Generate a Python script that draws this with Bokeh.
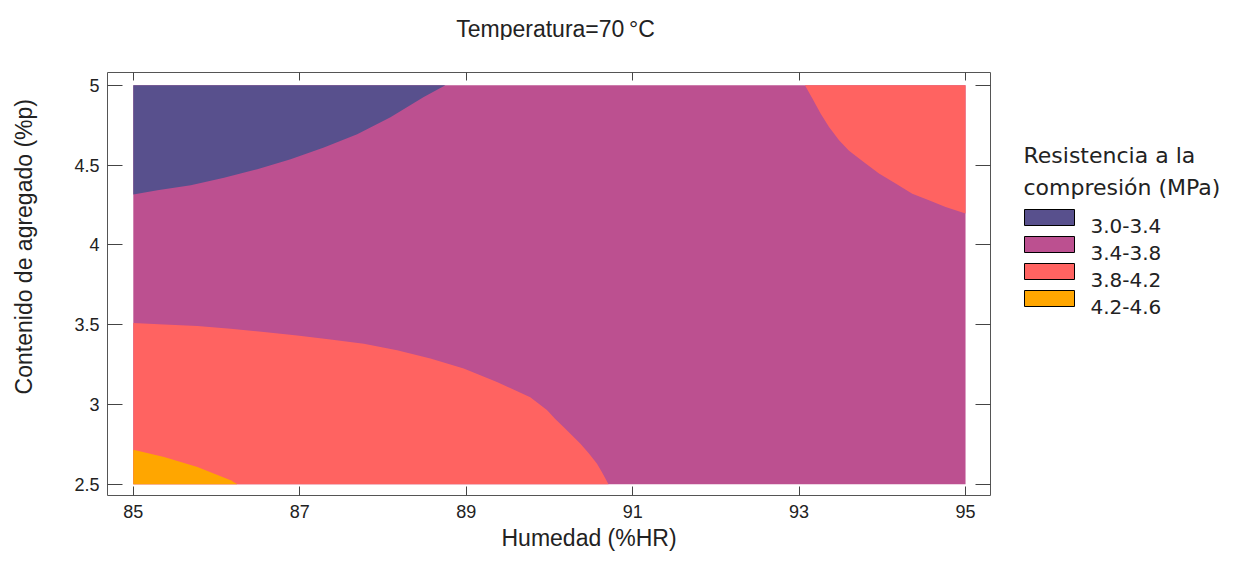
import math
from bokeh.plotting import figure
from bokeh.layouts import column, row
from bokeh.models import FixedTicker, LinearAxis, Range1d, Title
from bokeh.core.properties import value
from bokeh.embed import file_html
from bokeh.resources import INLINE

# ---------------- data ----------------
title_text = "Temperatura=70\u2009°C"
x_label = "Humedad  (%HR)"
y_label = "Contenido de agregado  (%p)"
legend_title = ["Resistencia a la", "compresión (MPa)"]
legend_labels = ["3.0-3.4", "3.4-3.8", "3.8-4.2", "4.2-4.6"]
colors = ["#58508d", "#bc5090", "#ff6361", "#ffa600"]

x_min, x_max = 85.0, 95.0
y_min, y_max = 2.5, 5.0
x_ticks = [85, 87, 89, 91, 93, 95]
y_ticks = [2.5, 3.0, 3.5, 4.0, 4.5, 5.0]
y_tick_labels = ["2.5", "3", "3.5", "4", "4.5", "5"]

# contour line 3.4 (upper-left)
c34_x = [85.0, 85.29, 85.69, 86.09, 86.49, 86.89, 87.29, 87.69, 88.09, 88.49, 88.75]
c34_y = [4.315, 4.342, 4.373, 4.42, 4.474, 4.536, 4.61, 4.693, 4.80, 4.927, 5.0]
# contour line 3.8 (upper-right)
c38a_x = [93.07, 93.16, 93.26, 93.36, 93.48, 93.6, 93.76, 93.96, 94.16, 94.36, 94.56, 94.76, 95.0]
c38a_y = [5.0, 4.917, 4.822, 4.739, 4.655, 4.59, 4.525, 4.447, 4.384, 4.321, 4.28, 4.237, 4.196]
# contour line 3.8 (lower-left)
c38b_x = [85.0, 85.37, 85.77, 86.17, 86.57, 86.97, 87.37, 87.77, 88.17, 88.57,
          88.97, 89.37, 89.77, 89.97, 90.07, 90.17, 90.27, 90.37, 90.47, 90.57,
          90.63, 90.71]
c38b_y = [3.511, 3.502, 3.492, 3.475, 3.454, 3.433, 3.408, 3.381, 3.340, 3.288,
          3.225, 3.141, 3.045, 2.965, 2.91, 2.859, 2.807, 2.755, 2.696, 2.63,
          2.577, 2.5]
# contour line 4.2 (lower-left corner)
c42_x = [85.0, 85.37, 85.77, 86.17, 86.25]
c42_y = [2.717, 2.671, 2.608, 2.525, 2.5]

# ---------------- styling constants ----------------
TF = "Liberation Sans"
LF = "DejaVu Sans"
TXT = "#222222"
TICK = "#444444"
W, H = 1239, 561
TOP_H = 40            # title strip
YL_W = 40             # y-label strip
LEG_W = 239           # legend strip
MAIN_W = W - YL_W - LEG_W
ROW_H = H - TOP_H
FRAME_TOP, FRAME_BOTTOM = 72, 495   # page pixels of the plot frame


def blank(width, height, xr, yr):
    f = figure(width=width, height=height, x_range=xr, y_range=yr,
               x_axis_type=None, y_axis_type=None, output_backend="svg",
               toolbar_location=None, min_border=0)
    f.outline_line_color = None
    f.grid.visible = False
    return f


# ---------------- title strip ----------------
t_fig = blank(W, TOP_H, Range1d(0, W), Range1d(TOP_H, 0))
t_fig.text(x=[555], y=[28], text=[title_text], text_align="center",
           text_baseline="alphabetic", text_font=value(TF),
           text_font_size="23px", text_color=TXT)

# side strips share the main frame's vertical extent (frames are aligned in a row)
# ---------------- y-label strip ----------------
y_fig = blank(YL_W, ROW_H, Range1d(0, YL_W), Range1d(FRAME_BOTTOM, FRAME_TOP))
y_fig.text(x=[23], y=[243], text=[y_label], angle=math.pi / 2,
           text_align="center", text_baseline="middle", text_font=value(TF),
           text_font_size="23px", text_color=TXT)

# ---------------- main plot ----------------
p = figure(width=MAIN_W, height=ROW_H,
           x_range=Range1d(84.69, 95.30), y_range=Range1d(2.43, 5.08),
           output_backend="svg", toolbar_location=None,
           min_border_left=107 - YL_W, min_border_right=10,
           min_border_top=FRAME_TOP - TOP_H, min_border_bottom=H - FRAME_BOTTOM)
p.grid.visible = False
p.outline_line_color = "#555555"
p.outline_line_width = 1

# base band (3.4-3.8) over the whole domain
p.quad(left=[x_min], right=[x_max], bottom=[y_min], top=[y_max],
       fill_color=colors[1], line_color=None)
# regions bounded by the contour lines and the domain edges
p.patch(c34_x + [x_min], c34_y + [y_max], fill_color=colors[0], line_color=None)
p.patch(c38a_x + [x_max], c38a_y + [y_max], fill_color=colors[2], line_color=None)
p.patch(c38b_x + [x_min], c38b_y + [y_min], fill_color=colors[2], line_color=None)
p.patch(c42_x + [x_min], c42_y + [y_min], fill_color=colors[3], line_color=None)

xa = p.xaxis[0]
ya = p.yaxis[0]
for ax in (xa, ya):
    ax.axis_line_color = None
    ax.major_tick_out = 0
    ax.minor_tick_line_color = None
    ax.major_tick_line_color = TICK
    ax.major_label_text_font = TF
    ax.major_label_text_font_size = "18px"
    ax.major_label_text_color = TXT
xa.ticker = FixedTicker(ticks=x_ticks)
xa.major_tick_in = 9
xa.major_label_standoff = 9
ya.ticker = FixedTicker(ticks=y_ticks)
ya.major_label_overrides = {t: s for t, s in zip(y_ticks, y_tick_labels)}
ya.major_tick_in = 15
ya.major_label_standoff = 8

top_ax = LinearAxis(ticker=FixedTicker(ticks=x_ticks), major_tick_in=8, major_tick_out=0,
                    axis_line_color=None, minor_tick_line_color=None,
                    major_tick_line_color=TICK, major_label_standoff=0,
                    major_label_overrides={t: "" for t in x_ticks})
right_ax = LinearAxis(ticker=FixedTicker(ticks=y_ticks), major_tick_in=15, major_tick_out=0,
                      axis_line_color=None, minor_tick_line_color=None,
                      major_tick_line_color=TICK, major_label_standoff=0,
                      major_label_overrides={t: "" for t in y_ticks})
p.add_layout(top_ax, "above")
p.add_layout(right_ax, "right")

p.add_layout(Title(text=x_label, align="left", offset=394, text_font=TF,
                   text_font_size="23px", text_font_style="normal",
                   text_color=TXT, standoff=4), "below")

# ---------------- legend strip ----------------
l_fig = blank(LEG_W, ROW_H, Range1d(0, LEG_W), Range1d(FRAME_BOTTOM, FRAME_TOP))
l_fig.text(x=[23, 23], y=[155, 187], text=legend_title, text_align="left",
           text_baseline="alphabetic", text_font=value(LF),
           text_font_size="22px", text_color=TXT)
n = len(legend_labels)
sw_top = [209 + 27 * i for i in range(n)]
l_fig.quad(left=[24] * n, right=[74] * n, top=sw_top, bottom=[t + 16 for t in sw_top],
           fill_color=colors, line_color="black", line_width=1)
l_fig.text(x=[90] * n, y=[t + 16 for t in sw_top], text=legend_labels, text_align="left",
           text_baseline="alphabetic", text_font=value(LF),
           text_font_size="20px", text_color=TXT)

layout = column(t_fig, row(y_fig, p, l_fig, spacing=0), spacing=0)
open("out.html", "w").write(file_html(layout, INLINE))
